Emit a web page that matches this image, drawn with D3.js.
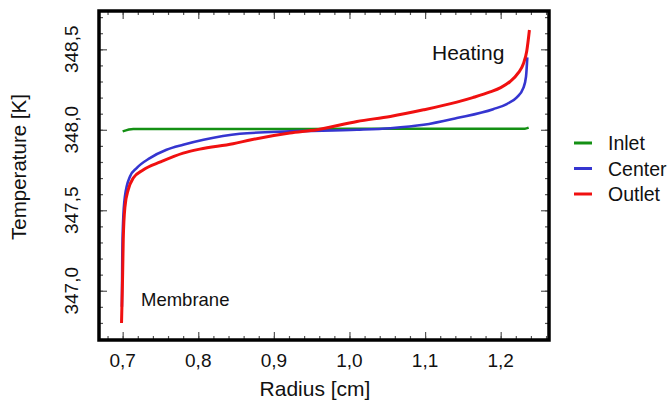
<!DOCTYPE html>
<html>
<head>
<meta charset="utf-8">
<script src="https://cdn.jsdelivr.net/npm/d3@7"></script>
<style>
    body { margin: 0; background: white; }
    text { font-family: "Liberation Sans", Arial, sans-serif; fill: #111; }
</style>
</head>
<body>
<div id="chart"></div>
<script>
// series values
var seriesNames = ["Inlet", "Center", "Outlet"];
var seriesColors = ["#149014", "#3535d0", "#f01010"];

var radiusInlet = [0.700, 0.714, 0.800, 0.900, 1.000, 1.100, 1.200, 1.232, 1.237];
var tempInlet   = [347.99, 348.005, 348.005, 348.005, 348.006, 348.006, 348.006, 348.007, 348.013];

var radiusCenter = [0.6990, 0.6995, 0.7005, 0.7030, 0.7097, 0.7185, 0.736, 0.758, 0.780, 0.807, 0.855, 0.921, 1.010, 1.054, 1.098, 1.142, 1.190, 1.208, 1.221, 1.2300, 1.2335, 1.2352];
var tempCenter   = [346.90, 347.21, 347.42, 347.586, 347.71, 347.762, 347.824, 347.876, 347.907, 347.938, 347.975, 347.99, 348.0, 348.01, 348.031, 348.073, 348.128, 348.16, 348.20, 348.26, 348.33, 348.45];

var radiusOutlet = [0.6985, 0.6995, 0.7000, 0.7008, 0.7030, 0.7075, 0.714, 0.727, 0.750, 0.780, 0.802, 0.846, 0.870, 0.921, 0.957, 1.010, 1.054, 1.098, 1.142, 1.163, 1.186, 1.200, 1.2125, 1.2235, 1.230, 1.2345, 1.238];
var tempOutlet   = [346.80, 347.0, 347.11, 347.32, 347.52, 347.63, 347.70, 347.75, 347.80, 347.855, 347.88, 347.913, 347.938, 347.98, 348.0, 348.052, 348.083, 348.124, 348.172, 348.20, 348.235, 348.262, 348.30, 348.355, 348.41, 348.49, 348.62];

var xTickValues = [0.7, 0.8, 0.9, 1.0, 1.1, 1.2];
var yTickValues = [347.0, 347.5, 348.0, 348.5];

var svgWidth = 670;
var svgHeight = 403;

var margin = {
    top: 11,
    right: 121,
    bottom: 63,
    left: 99
};

var chartWidth = svgWidth - margin.left - margin.right;
var chartHeight = svgHeight - margin.top - margin.bottom;

var svg = d3.select( "#chart")
    .append( "svg")
    .attr( "width", svgWidth)
    .attr( "height", svgHeight);

var chartGroup = svg.append( "g")
    .attr( "transform", `translate( ${margin.left}, ${margin.top})`);

var xLinearScale = d3.scaleLinear()
    .domain([0.6687, 1.2639])
    .range([0, chartWidth]);

var yLinearScale = d3.scaleLinear()
    .domain([346.694, 348.738])
    .range([chartHeight, 0]);

var commaFormat = d => d.toFixed(1).replace( ".", ",");

// minor ticks first, inward
var xMinor = d3.range( 0.68, 1.2601, 0.02);
var yMinor = d3.range( 346.7, 348.7001, 0.1);

chartGroup.append( "g")
    .attr( "transform", `translate(0, ${chartHeight})`)
    .call( d3.axisTop( xLinearScale).tickValues( xMinor).tickSize( 4).tickFormat( ""));
chartGroup.append( "g")
    .call( d3.axisBottom( xLinearScale).tickValues( xMinor).tickSize( 4).tickFormat( ""));
chartGroup.append( "g")
    .call( d3.axisRight( yLinearScale).tickValues( yMinor).tickSize( 4).tickFormat( ""));
chartGroup.append( "g")
    .attr( "transform", `translate(${chartWidth}, 0)`)
    .call( d3.axisLeft( yLinearScale).tickValues( yMinor).tickSize( 4).tickFormat( ""));

// major ticks
chartGroup.append( "g")
    .attr( "transform", `translate(0, ${chartHeight})`)
    .call( d3.axisTop( xLinearScale).tickValues( xTickValues).tickSize( 8).tickFormat( ""));
chartGroup.append( "g")
    .call( d3.axisBottom( xLinearScale).tickValues( xTickValues).tickSize( 8).tickFormat( ""));
chartGroup.append( "g")
    .call( d3.axisRight( yLinearScale).tickValues( yTickValues).tickSize( 8).tickFormat( ""));
chartGroup.append( "g")
    .attr( "transform", `translate(${chartWidth}, 0)`)
    .call( d3.axisLeft( yLinearScale).tickValues( yTickValues).tickSize( 8).tickFormat( ""));

chartGroup.selectAll( ".domain").remove();
chartGroup.selectAll( ".tick line")
    .attr( "stroke", "#555")
    .attr( "stroke-width", 1.2);

// tick labels
chartGroup.selectAll( ".xlabel")
    .data( xTickValues)
    .enter()
    .append( "text")
    .attr( "x", d => xLinearScale(d))
    .attr( "y", chartHeight + 27)
    .attr( "text-anchor", "middle")
    .style( "font-size", "19px")
    .text( commaFormat);

chartGroup.selectAll( ".ylabel")
    .data( yTickValues)
    .enter()
    .append( "text")
    .attr( "transform", d => `translate(-21, ${yLinearScale(d)}) rotate(-90)`)
    .attr( "text-anchor", "middle")
    .style( "font-size", "19px")
    .text( commaFormat);

// lines
var createLine = d3.line()
    .x( d => xLinearScale(d[0]))
    .y( d => yLinearScale(d[1]))
    .curve( d3.curveMonotoneX);

var seriesData = [
    d3.zip( radiusInlet, tempInlet),
    d3.zip( radiusCenter, tempCenter),
    d3.zip( radiusOutlet, tempOutlet)
];
var seriesWidths = [2.5, 2.6, 3];

chartGroup.selectAll( "path.series")
    .data( seriesData)
    .enter()
    .append( "path")
    .attr( "class", "series")
    .attr( "fill", "none")
    .attr( "stroke", (d, i) => seriesColors[i])
    .attr( "stroke-width", (d, i) => seriesWidths[i])
    .attr( "d", createLine);

// frame
chartGroup.append( "rect")
    .attr( "width", chartWidth)
    .attr( "height", chartHeight)
    .attr( "fill", "none")
    .attr( "stroke", "black")
    .attr( "stroke-width", 3.5);

// annotations
chartGroup.append( "text")
    .attr( "x", 333)
    .attr( "y", 49)
    .style( "font-size", "21px")
    .text( "Heating");

chartGroup.append( "text")
    .attr( "x", 42)
    .attr( "y", 295)
    .style( "font-size", "18.5px")
    .text( "Membrane");

// axis titles
svg.append( "text")
    .attr( "x", margin.left + chartWidth / 2 - 9)
    .attr( "y", 396)
    .attr( "text-anchor", "middle")
    .style( "font-size", "21px")
    .text( "Radius [cm]");

svg.append( "text")
    .attr( "transform", "translate(26, 167) rotate(-90)")
    .attr( "text-anchor", "middle")
    .style( "font-size", "20.5px")
    .text( "Temperature [K]");

// legend
var legend = svg.selectAll( "g.legend")
    .data( seriesNames)
    .enter()
    .append( "g")
    .attr( "class", "legend")
    .attr( "transform", (d, i) => `translate(574, ${143 + i * 25.5})`);

legend.append( "line")
    .attr( "x1", 0)
    .attr( "x2", 18)
    .attr( "stroke", (d, i) => seriesColors[i])
    .attr( "stroke-width", 3);

legend.append( "text")
    .attr( "x", 34)
    .attr( "y", 7)
    .style( "font-size", "19.5px")
    .text( d => d);
</script>
</body>
</html>
